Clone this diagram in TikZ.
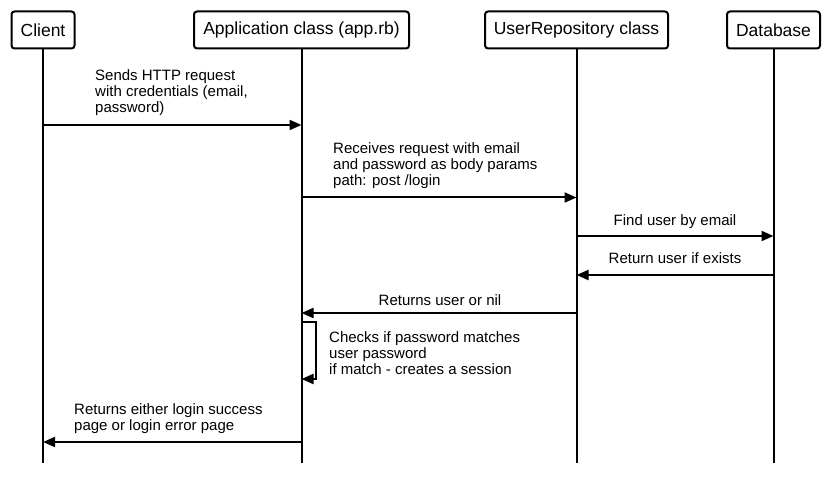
\documentclass[tikz,border=0pt]{standalone}
\usepackage{fontspec}
\setmainfont{Liberation Sans}
\usetikzlibrary{arrows.meta}
\begin{document}
\begin{tikzpicture}[x=1pt,y=-1pt,
  actor/.style={draw,line width=2pt,rounded corners=3pt,minimum height=37pt,inner sep=0pt,font=\fontsize{17.5}{20}\selectfont},
  life/.style={line width=2pt},
  msg/.style={line width=2pt,-{Triangle[length=12pt,width=10pt]}},
  lbl/.style={inner sep=0pt,align=left,font=\fontsize{15}{16.2}\selectfont},
  clbl/.style={inner sep=0pt,align=center,font=\fontsize{15}{16.2}\selectfont}]
\useasboundingbox (0,0) rectangle (832,486);
% actors
\node[actor,minimum width=63pt] (client) at (43,30) {Client};
\node[actor,minimum width=215pt] (app) at (301.5,30) {Application class (app.rb)};
\node[actor,minimum width=183pt] (repo) at (576.5,30) {UserRepository class};
\node[actor,minimum width=93pt] (db) at (773.5,30) {Database};
% lifeline ends
\coordinate (clientEnd) at (43,463);
\coordinate (appEnd) at (301.5,463);
\coordinate (repoEnd) at (576.5,463);
\coordinate (dbEnd) at (773.5,463);
\draw[life] (client.south) -- (clientEnd);
\draw[life] (app.south) -- (appEnd);
\draw[life] (repo.south) -- (repoEnd);
\draw[life] (db.south) -- (dbEnd);
% message points
\coordinate (c1) at (43,125);   \coordinate (a1) at (301.5,125);
\coordinate (a2) at (301.5,197.5); \coordinate (r2) at (576.5,197.5);
\coordinate (r3) at (576.5,236); \coordinate (d3) at (773.5,236);
\coordinate (d4) at (773.5,275); \coordinate (r4) at (576.5,275);
\coordinate (r5) at (576.5,313); \coordinate (a5) at (301.5,313);
\coordinate (s1) at (301.5,322); \coordinate (s2) at (316,322);
\coordinate (s3) at (316,379);  \coordinate (s4) at (301.5,379);
\coordinate (a7) at (301.5,442); \coordinate (c7) at (43,442);
% messages
\draw[msg] (c1) -- (a1);
\node[lbl,anchor=north west] (t1) at (95,69) {Sends HTTP request\\with credentials (email,\\password)};
\draw[msg] (a2) -- (r2);
\node[lbl,anchor=north west] (t2) at (333,142) {Receives request with email\\and password as body params\\path: post /login};
\draw[msg] (r3) -- (d3);
\node[clbl,anchor=north] (t3) at (675,214) {Find user by email};
\draw[msg] (d4) -- (r4);
\node[clbl,anchor=north] (t4) at (675,252) {Return user if exists};
\draw[msg] (r5) -- (a5);
\node[clbl,anchor=north] (t5) at (440,294) {Returns user or nil};
\draw[msg] (s1) -- (s2) -- (s3) -- (s4);
\node[lbl,anchor=north west] (t6) at (329,331) {Checks if password matches\\user password\\if match - creates a session};
\draw[msg] (a7) -- (c7);
\node[lbl,anchor=north west] (t7) at (74,403) {Returns either login success\\page or login error page};
\end{tikzpicture}
\end{document}
